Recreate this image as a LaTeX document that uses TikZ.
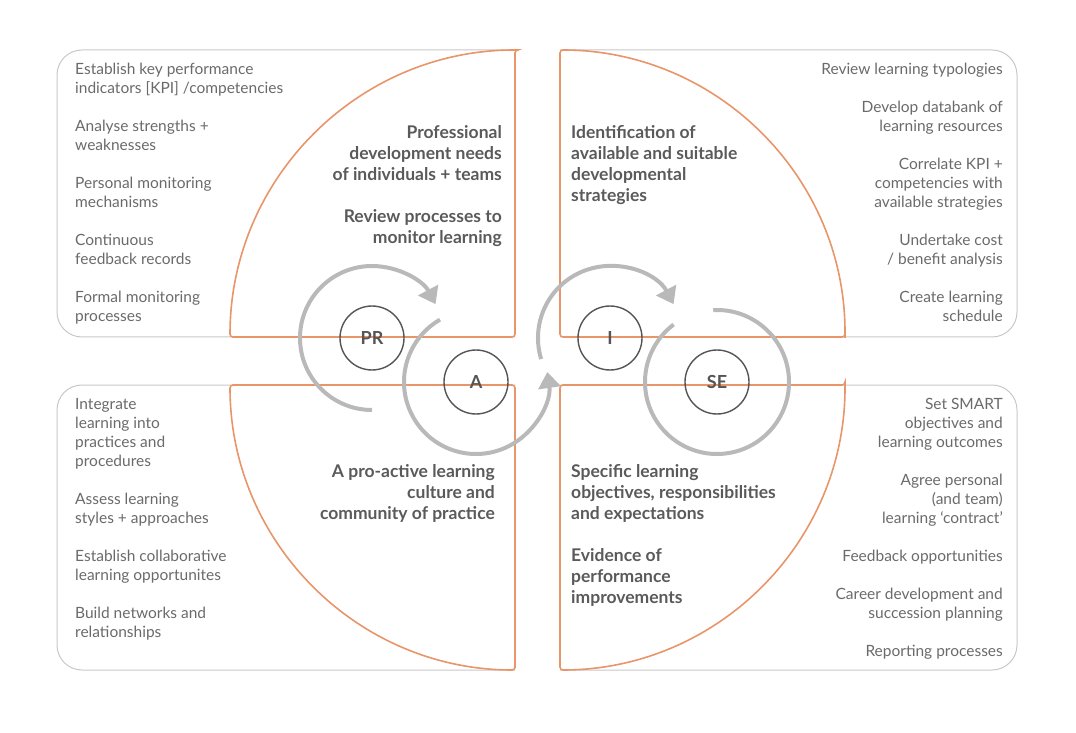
\documentclass[tikz,border=0pt]{standalone}
\usepackage{fontspec}
\setmainfont{Lato}
\usetikzlibrary{arrows.meta}
\definecolor{org}{HTML}{E8956A}
\definecolor{boxg}{HTML}{C8C8C8}
\definecolor{arrg}{HTML}{B9B9B9}
\definecolor{txt}{HTML}{6A6A6A}
\definecolor{circ}{HTML}{555555}
\begin{document}
\begin{tikzpicture}[x=1pt,y=1pt,
  gbox/.style={draw=boxg,line width=1pt,rounded corners=25pt},
  quad/.style={draw=org,line width=1.6pt,rounded corners=3pt},
  body/.style={inner sep=0pt,font=\fontsize{15.5}{19}\selectfont,text=txt},
  head/.style={inner sep=0pt,font=\fontsize{17.5}{21}\selectfont\bfseries,text=txt!85!black},
  lbl/.style={circle,draw=circ,line width=1.4pt,minimum size=64pt,inner sep=0pt,font=\fontsize{18}{20}\selectfont\bfseries,text=circ},
  cyc/.style={draw=arrg,line width=4pt},
  cyca/.style={cyc,-{Triangle[length=16pt,width=22pt]}}]
\useasboundingbox (0,0) rectangle (1076,732);
% grey boxes
\draw[gbox] (515,682) -- (57,682) -- (57,395) -- (515,395);
\draw[gbox] (560,682) -- (1017,682) -- (1017,395) -- (560,395);
\draw[gbox] (515,347) -- (57,347) -- (57,62) -- (515,62);
\draw[gbox] (560,347) -- (1017,347) -- (1017,62) -- (560,62);
% orange quadrants
\draw[quad] (515,682) -- (515,395) -- (230,395) arc[start angle=180,end angle=90,radius=287] -- cycle;
\draw[quad] (845,395) -- (560,395) -- (560,682) arc[start angle=90,end angle=0,radius=285] -- cycle;
\draw[quad] (515,62) -- (515,347) -- (230,347) arc[start angle=180,end angle=270,radius=285] -- cycle;
\draw[quad] (845,347) -- (560,347) -- (560,62) arc[start angle=270,end angle=360,radius=285] -- cycle;
% cycle arrows
\coordinate (cPR) at (372,394);
\coordinate (cA) at (476,350);
\coordinate (cI) at (610,394);
\coordinate (cSE) at (717,350);
\draw[cyca] ([shift={(270:72)}]cPR) arc[start angle=270,end angle=28,radius=72];
\draw[cyca] ([shift={(120:72)}]cA) arc[start angle=120,end angle=368,radius=72];
\draw[cyca] ([shift={(197:72)}]cI) arc[start angle=197,end angle=28,radius=72];
\draw[cyc] ([shift={(93:72)}]cSE) arc[start angle=93,end angle=-233,radius=72];
% circles
\node[lbl,fill=white,fill opacity=0,text opacity=1] (PR) at (cPR) {PR};
\node[lbl] (A) at (cA) {A};
\node[lbl] (I) at (cI) {I};
\node[lbl] (SE) at (cSE) {SE};
% TL texts
\node[body,anchor=north west,align=left] (tl1) at (75,669) {Establish key performance\\indicators [KPI] /competencies};
\node[body,anchor=north west,align=left] (tl2) at (75,612) {Analyse strengths +\\weaknesses};
\node[body,anchor=north west,align=left] (tl3) at (75,555) {Personal monitoring\\mechanisms};
\node[body,anchor=north west,align=left] (tl4) at (75,498) {Continuous\\feedback records};
\node[body,anchor=north west,align=left] (tl5) at (75,441) {Formal monitoring\\processes};
\node[head,anchor=north east,align=right] (tlh1) at (502,607) {Professional\\development needs\\of individuals + teams};
\node[head,anchor=north east,align=right] (tlh2) at (502,523) {Review processes to\\monitor learning};
% TR texts
\node[body,anchor=north east,align=right] (tr1) at (1003,669) {Review learning typologies};
\node[body,anchor=north east,align=right] (tr2) at (1003,631) {Develop databank of\\learning resources};
\node[body,anchor=north east,align=right] (tr3) at (1003,574) {Correlate KPI +\\competencies with\\available strategies};
\node[body,anchor=north east,align=right] (tr4) at (1003,498) {Undertake cost\\/ benefit analysis};
\node[body,anchor=north east,align=right] (tr5) at (1003,441) {Create learning\\schedule};
\node[head,anchor=north west,align=left] (trh) at (571,607) {Identification of\\available and suitable\\developmental\\strategies};
% BL texts
\node[body,anchor=north west,align=left] (bl1) at (75,334) {Integrate\\learning into\\practices and\\procedures};
\node[body,anchor=north west,align=left] (bl2) at (75,239) {Assess learning\\styles + approaches};
\node[body,anchor=north west,align=left] (bl3) at (75,182) {Establish collaborative\\learning opportunites};
\node[body,anchor=north west,align=left] (bl4) at (75,125) {Build networks and\\relationships};
\node[head,anchor=north east,align=right] (blh) at (495,268) {A pro-active learning\\culture and\\community of practice};
% BR texts
\node[body,anchor=north east,align=right] (br1) at (1003,334) {Set SMART\\objectives and\\learning outcomes};
\node[body,anchor=north east,align=right] (br2) at (1003,258) {Agree personal\\(and team)\\learning ‘contract’};
\node[body,anchor=north east,align=right] (br3) at (1003,182) {Feedback opportunities};
\node[body,anchor=north east,align=right] (br4) at (1003,144) {Career development and\\succession planning};
\node[body,anchor=north east,align=right] (br5) at (1003,87) {Reporting processes};
\node[head,anchor=north west,align=left] (brh1) at (571,268) {Specific learning\\objectives, responsibilities\\and expectations};
\node[head,anchor=north west,align=left] (brh2) at (571,184) {Evidence of\\performance\\improvements};
\end{tikzpicture}
\end{document}
